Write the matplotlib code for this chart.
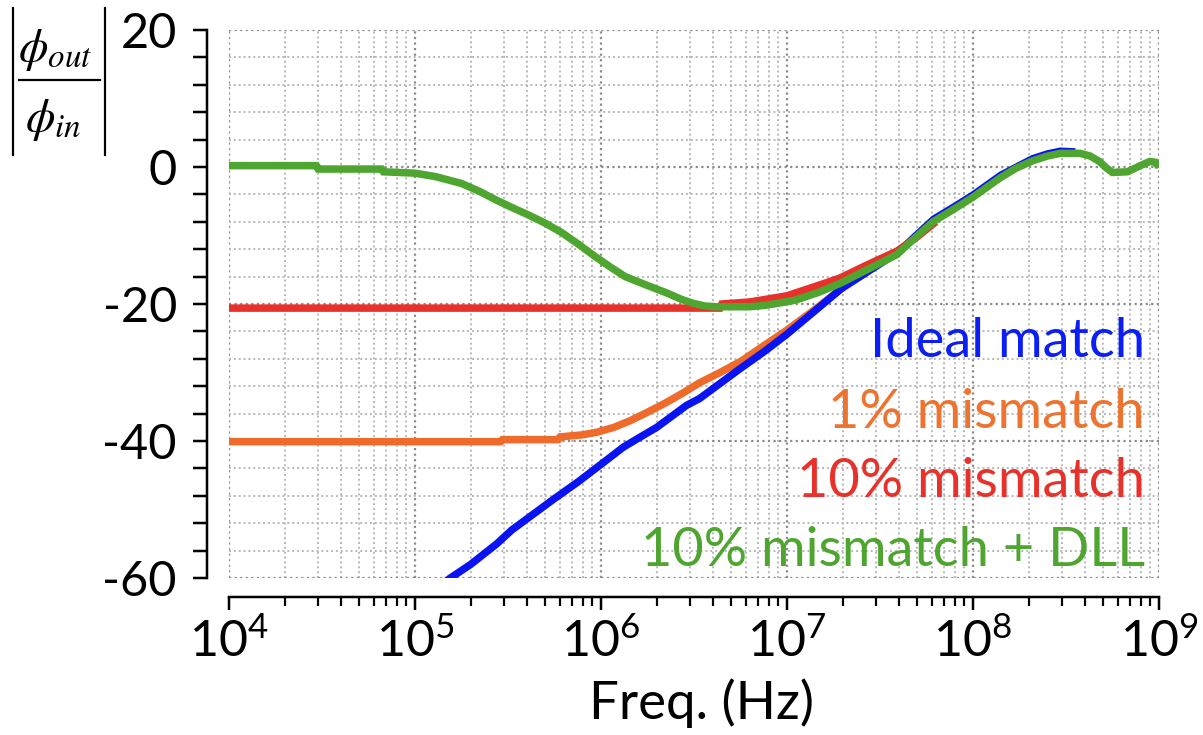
import numpy as np
import matplotlib.pyplot as plt
from matplotlib.lines import Line2D
from matplotlib.ticker import MultipleLocator, LogLocator, NullFormatter, FuncFormatter

plt.rcParams['font.family'] = ['Lato', 'DejaVu Sans']
plt.rcParams['mathtext.fontset'] = 'custom'
plt.rcParams['mathtext.rm'] = 'Lato'
plt.rcParams['mathtext.it'] = 'Lato:italic'

# log10(frequency / Hz) and |phi_out / phi_in| in dB
ideal_logf = [5.15, 5.19, 5.30, 5.44, 5.52, 5.60, 5.74, 5.88, 6.01, 6.12, 6.20, 6.30,
              6.46, 6.53, 6.64, 6.75, 6.88, 7.00, 7.15, 7.29, 7.45, 7.60, 7.69, 7.79,
              7.90, 8.00, 8.15, 8.32, 8.40, 8.47, 8.55]
ideal_db = [-60.8, -60.0, -58.0, -55.0, -53.0, -51.4, -48.6, -45.9, -43.2, -40.9, -39.6, -38.0,
            -34.8, -33.8, -31.6, -29.4, -26.9, -24.4, -21.0, -17.8, -15.0, -12.4, -10.1, -7.6,
            -5.8, -4.1, -1.2, 1.2, 1.9, 2.3, 2.2]

mis1_logf = [4.00, 5.46, 5.47, 5.77, 5.78, 5.90, 5.98, 6.07, 6.16, 6.25, 6.35, 6.44,
             6.53, 6.64, 6.75, 6.88, 7.00, 7.15, 7.30]
mis1_db = [-40.1, -40.1, -39.8, -39.8, -39.4, -39.1, -38.7, -38.0, -37.0, -35.8, -34.4, -33.0,
           -31.5, -30.0, -28.4, -26.0, -23.8, -20.8, -17.6]

mis10_logf = [4.00, 6.64, 6.65, 6.80, 6.89, 7.00, 7.10, 7.20, 7.285, 7.43, 7.59, 7.70, 7.80]
mis10_db = [-20.6, -20.6, -20.0, -19.7, -19.3, -18.8, -17.9, -17.0, -16.2, -14.3, -12.3, -10.2, -8.0]

dll_logf = [4.00, 4.47, 4.48, 4.82, 4.83, 5.00, 5.11, 5.25, 5.35, 5.435, 5.52, 5.61,
            5.70, 5.79, 5.88, 5.97, 6.05, 6.13, 6.25, 6.355, 6.43, 6.495, 6.56, 6.62,
            6.80, 6.88, 6.95, 7.05, 7.17, 7.285, 7.43, 7.59, 7.69, 7.785, 7.90, 8.00,
            8.145, 8.23, 8.32, 8.40, 8.47, 8.575, 8.63, 8.68, 8.72, 8.75, 8.83, 8.90,
            8.95, 8.98, 9.00]
dll_db = [0.2, 0.2, -0.3, -0.3, -0.7, -0.9, -1.4, -2.4, -3.6, -4.8, -5.9, -7.0,
          -8.2, -9.6, -11.3, -13.1, -14.6, -16.0, -17.3, -18.4, -19.3, -19.9, -20.3, -20.4,
          -20.4, -20.2, -19.9, -19.4, -18.3, -17.0, -15.0, -12.8, -10.3, -8.0, -6.1, -4.4,
          -1.6, -0.2, 0.9, 1.6, 2.0, 2.0, 1.6, 0.8, -0.2, -0.8, -0.7, 0.2,
          0.8, 0.7, 0.0]

labels = ['Ideal match', '1% mismatch', '10% mismatch', '10% mismatch + DLL']
line_colors = ['#0a14f2', '#ee6b2b', '#e8312a', '#4ea52f']
text_colors = ['#0a1ef5', '#ed7430', '#e8312a', '#4ea52f']

W, H = 1203, 735
PX = 72 / 100  # points per pixel at dpi 100
fig = plt.figure(figsize=(W / 100, H / 100), dpi=100)
ax = fig.add_axes([229 / W, 1 - 578 / H, (1159 - 229) / W, (578 - 30) / H])

series = [(mis1_logf, mis1_db, line_colors[1]),
          (ideal_logf, ideal_db, line_colors[0]),
          (mis10_logf, mis10_db, line_colors[2]),
          (dll_logf, dll_db, line_colors[3])]
for lf, db, c in series:
    ax.plot(np.power(10.0, lf), db, color=c, lw=7.5 * PX, solid_capstyle='butt',
            solid_joinstyle='miter')

ax.set_xscale('log')
ax.set_xlim(1e4, 1e9)
ax.set_ylim(-60, 20)

ax.xaxis.set_major_locator(LogLocator(base=10))
ax.xaxis.set_minor_locator(LogLocator(base=10, subs=np.arange(2, 10)))
ax.xaxis.set_minor_formatter(NullFormatter())
ax.xaxis.set_major_formatter(FuncFormatter(lambda v, p: r'$10^{%d}$' % round(np.log10(v))))
ax.yaxis.set_major_locator(MultipleLocator(20))
ax.yaxis.set_minor_locator(MultipleLocator(4))
ax.yaxis.set_major_formatter(FuncFormatter(lambda v, p: '%d' % v))

ax.grid(which='major', ls=(0, (1, 1.5)), color='#8c8c8c', lw=1.6)
ax.grid(which='minor', ls=(0, (1, 1.5)), color='#b8b8b8', lw=1.4)
ax.set_axisbelow(True)

for s in ['top', 'right']:
    ax.spines[s].set_visible(False)
ax.spines['left'].set_position(('outward', 22 * PX))
ax.spines['bottom'].set_position(('outward', 19 * PX))
for s in ['left', 'bottom']:
    ax.spines[s].set_linewidth(2.5 * PX)

ax.tick_params(axis='y', which='both', direction='out', length=14 * PX, width=2.5 * PX,
               labelsize=35, pad=16 * PX)
ax.tick_params(axis='x', which='major', direction='out', length=13 * PX, width=2.5 * PX,
               labelsize=36, pad=9 * PX)
ax.tick_params(axis='x', which='minor', direction='out', length=9 * PX, width=2.2 * PX)

# y label: |phi_out / phi_in| drawn as a stacked fraction with thin bars
def fpx(x, y):
    return x / W, 1 - y / H

fig.text(*fpx(55, 50), r'$\phi_{out}$', math_fontfamily='stix', fontsize=34,
         ha='center', va='center')
fig.text(*fpx(53, 120), r'$\phi_{in}$', math_fontfamily='stix', fontsize=34,
         ha='center', va='center')
for xs, ys in [((19, 100), (80, 80)), ((13, 13), (8, 155)), ((105, 105), (8, 155))]:
    fig.add_artist(Line2D([x / W for x in xs], [1 - y / H for y in ys],
                          transform=fig.transFigure, color='black', lw=2.2 * PX))

fig.text(701 / W, 1 - 703 / H, 'Freq. (Hz)', fontsize=38, ha='center', va='center')

baselines = [357, 428, 497, 566]
for lab, c, b in zip(labels, text_colors, baselines):
    fig.text(1145 / W, 1 - b / H, lab, color=c, fontsize=39, ha='right', va='baseline')

fig.savefig('out.png', dpi=100)
